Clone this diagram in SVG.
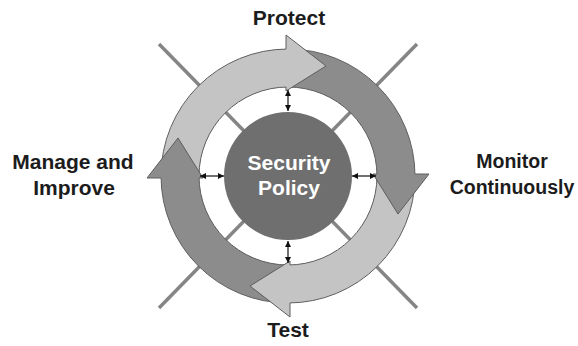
<svg xmlns="http://www.w3.org/2000/svg" width="578" height="346" viewBox="0 0 578 346">
<style>
.axis{stroke:#858585;stroke-width:3.5;fill:none}
.light{fill:#c4c4c4}
.dark{fill:#8c8c8c}
.body{stroke:#5e5e5e;stroke-width:1}
.hfill{stroke:none}
.hline{fill:none;stroke:#5e5e5e;stroke-width:1;stroke-linejoin:miter}
.lbl{font-family:"Liberation Sans",Arial,sans-serif;font-weight:bold;font-size:21px;fill:#1c1c1c;text-anchor:middle}
.lbs{font-size:19.5px}
.ctr{font-family:"Liberation Sans",Arial,sans-serif;font-weight:bold;font-size:21px;fill:#ffffff;text-anchor:middle}
.dbl{stroke:#111;stroke-width:1.2;fill:none;marker-start:url(#ah);marker-end:url(#ah)}
</style>
<defs>
<marker id="ah" viewBox="0 0 6 6" refX="6" refY="3" markerWidth="6" markerHeight="6" markerUnits="userSpaceOnUse" orient="auto-start-reverse">
<path d="M0,0 L6,3 L0,6 z" fill="#111"/>
</marker>
</defs>
<rect width="578" height="346" fill="#ffffff"/>
<g id="axes">
<line class="axis" x1="159" y1="44" x2="417" y2="308"/>
<line class="axis" x1="417" y1="44" x2="159" y2="308"/>
</g>
<g id="bodies">
<path id="body-protect" class="light body" d="M161,176 A127,127 0 0 1 288,49 L288,87 A89,89 0 0 0 199,176 Z"/>
<path id="body-monitor" class="dark body" d="M288,49 A127,127 0 0 1 415,176 L377,176 A89,89 0 0 0 288,87 Z"/>
<path id="body-test" class="light body" d="M415,176 A127,127 0 0 1 288,303 L288,265 A89,89 0 0 0 377,176 Z"/>
<path id="body-manage" class="dark body" d="M288,303 A127,127 0 0 1 161,176 L199,176 A89,89 0 0 0 288,265 Z"/>
</g>
<g id="head-protect">
<path class="light hfill" d="M286,35 L326,66 L286,91 Z"/>
<path class="hline" d="M286,49 L286,35 L326,66 L286,91 L286,87"/>
</g>
<g id="head-monitor">
<path class="dark hfill" d="M429,174 L398,214 L373,174 Z"/>
<path class="hline" d="M415,174 L429,174 L398,214 L373,174 L377,174"/>
</g>
<g id="head-test">
<path class="light hfill" d="M290,317 L250,286 L290,261 Z"/>
<path class="hline" d="M290,303 L290,317 L250,286 L290,261 L290,265"/>
</g>
<g id="head-manage">
<path class="dark hfill" d="M147,178 L178,138 L203,178 Z"/>
<path class="hline" d="M161,178 L147,178 L178,138 L203,178 L199,178"/>
</g>
<g id="connectors">
<line class="dbl" x1="288" y1="90" x2="288" y2="111"/>
<line class="dbl" x1="288" y1="241" x2="288" y2="263"/>
<line class="dbl" x1="200" y1="176" x2="224" y2="176"/>
<line class="dbl" x1="352" y1="176" x2="376" y2="176"/>
</g>
<g id="security-policy">
<circle cx="288" cy="176" r="64" fill="#6f6f6f"/>
<text class="ctr" x="289" y="170">Security</text>
<text class="ctr" x="289" y="195">Policy</text>
</g>
<g id="protect"><text class="lbl" x="289" y="25">Protect</text></g>
<g id="monitor"><text class="lbl lbs" x="512" y="168">Monitor</text><text class="lbl lbs" x="512" y="194">Continuously</text></g>
<g id="test"><text class="lbl" x="288" y="337">Test</text></g>
<g id="manage"><text class="lbl" x="73" y="169">Manage and</text><text class="lbl" x="74" y="195">Improve</text></g>
</svg>
